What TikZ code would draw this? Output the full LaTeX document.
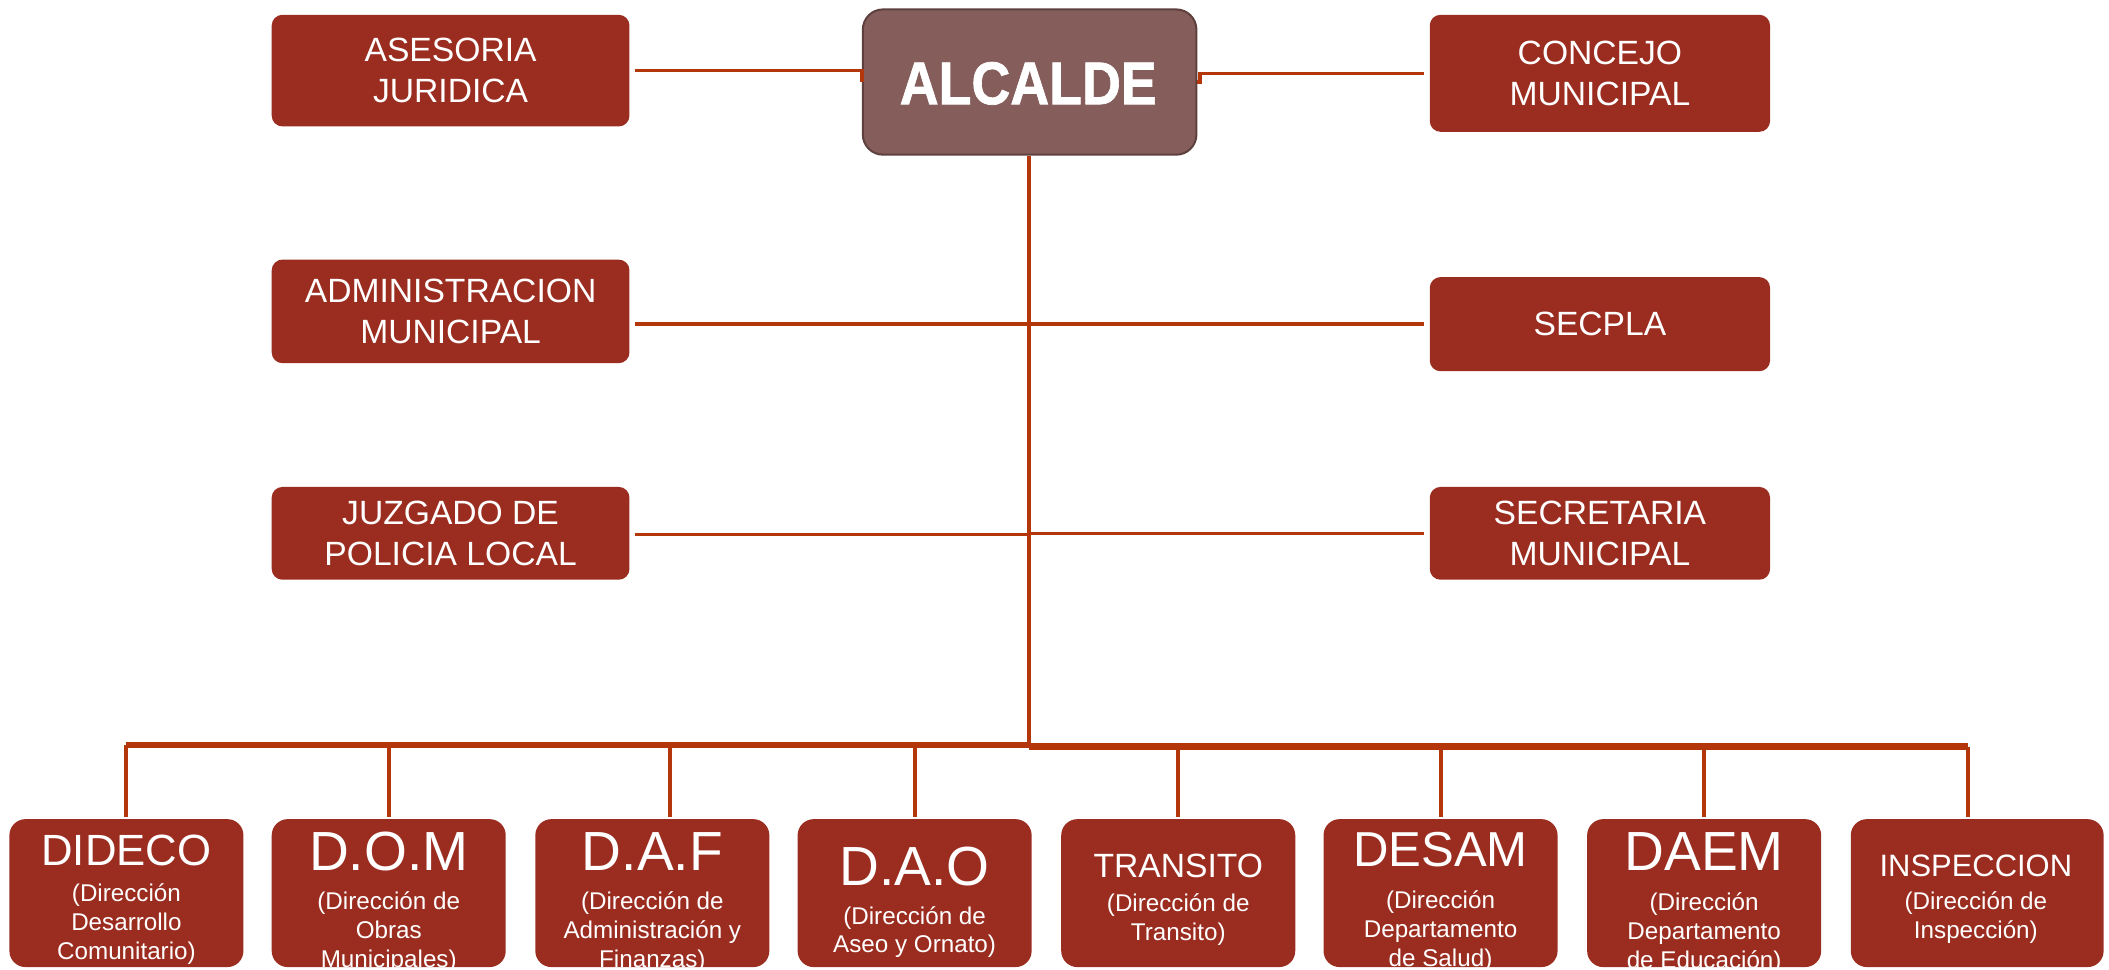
\documentclass[tikz,border=0pt]{standalone}
\usepackage{fontspec}
\setmainfont{Liberation Sans}
\newfontfamily\alcfont{Liberation Sans}[BoldFeatures={FakeBold=1.2}]
\usetikzlibrary{calc}
\definecolor{boxred}{RGB}{155,45,32}
\definecolor{linered}{RGB}{180,55,12}
\definecolor{alcfill}{RGB}{133,94,92}
\definecolor{alcdraw}{RGB}{94,64,62}
\tikzset{
 topbox/.style={rectangle, rounded corners=8pt, fill=boxred, text=white, font=\fontsize{25}{30.5}\selectfont, align=center, inner sep=0pt, outer sep=0pt},
 botbox/.style={rectangle, rounded corners=12pt, fill=boxred, minimum height=110pt, inner sep=0pt, outer sep=0pt},
 ttl/.style={text=white, inner sep=0pt},
 subt/.style={text=white, font=\fontsize{18}{21.5}\selectfont, align=center, inner sep=0pt},
 conn/.style={draw=linered, line width=2.5pt},
 drop/.style={draw=linered, line width=3pt},
 busline/.style={draw=linered, line width=4.5pt},
}
\begin{document}
\begin{tikzpicture}[x=1pt,y=-1pt]
\useasboundingbox (0,0) rectangle (1568,721);
\clip (0,0) rectangle (1568,721);

% top level
\node[topbox, minimum width=266pt, minimum height=83pt] (asesoria) at (335,52.5) {ASESORIA\\JURIDICA};
\node[rectangle, rounded corners=15pt, fill=alcfill, draw=alcdraw, line width=1.5pt, minimum width=248pt, minimum height=108pt, inner sep=0pt] (alcalde) at (765.5,61) {};
\node[text=white, font=\alcfont\bfseries\fontsize{40}{40}\selectfont, inner sep=0pt] (alcaldet) at (764.5,62) {\scalebox{1}[1.12]{ALCALDE}};
\node[topbox, minimum width=253pt, minimum height=87pt] (concejo) at (1189.5,54.5) {CONCEJO\\MUNICIPAL};
\node[topbox, minimum width=266pt, minimum height=77pt] (admin) at (335,231.5) {ADMINISTRACION\\MUNICIPAL};
\node[topbox, minimum width=253pt, minimum height=70pt] (secpla) at (1189.5,241) {SECPLA};
\node[topbox, minimum width=266pt, minimum height=69pt] (juzgado) at (335,396.5) {JUZGADO DE\\POLICIA LOCAL};
\node[topbox, minimum width=253pt, minimum height=69pt] (secretaria) at (1189.5,396.5) {SECRETARIA\\MUNICIPAL};

% bottom boxes
\node[botbox, minimum width=174pt] (dideco) at (94,664) {};
\node[botbox, minimum width=174pt] (dom) at (289,664) {};
\node[botbox, minimum width=174pt] (daf) at (485,664) {};
\node[botbox, minimum width=174pt] (dao) at (680,664) {};
\node[botbox, minimum width=174pt] (transito) at (876,664) {};
\node[botbox, minimum width=174pt] (desam) at (1071,664) {};
\node[botbox, minimum width=174pt] (daem) at (1267,664) {};
\node[botbox, minimum width=188pt] (inspeccion) at (1470,664) {};

\node[ttl, font=\fontsize{32.5}{32.5}\selectfont] (didecot) at (94,632) {DIDECO};
\node[subt] (didecos) at (94,687) {(Dirección\\Desarrollo\\Comunitario)};
\node[ttl, font=\fontsize{41}{41}\selectfont] (domt) at (289,633) {D.O.M};
\node[subt] (doms) at (289,693) {(Dirección de\\Obras\\Municipales)};
\node[ttl, font=\fontsize{41}{41}\selectfont] (daft) at (485,633) {D.A.F};
\node[subt] (dafs) at (485,693) {(Dirección de\\Administración y\\Finanzas)};
\node[ttl, font=\fontsize{41}{41}\selectfont] (daot) at (680,644) {D.A.O};
\node[subt] (daos) at (680,693) {(Dirección de\\Aseo y Ornato)};
\node[ttl, font=\fontsize{25}{25}\selectfont] (transitot) at (876,643.5) {TRANSITO};
\node[subt] (transitos) at (876,684) {(Dirección de\\Transito)};
\node[ttl, font=\fontsize{36.5}{36.5}\selectfont] (desamt) at (1071,632) {DESAM};
\node[subt] (desams) at (1071,692) {(Dirección\\Departamento\\de Salud)};
\node[ttl, font=\fontsize{41}{41}\selectfont] (daemt) at (1267,633) {DAEM};
\node[subt] (daems) at (1267,694) {(Dirección\\Departamento\\de Educación)};
\node[ttl, font=\fontsize{23}{23}\selectfont] (inspecciont) at (1469,644) {INSPECCION};
\node[subt] (inspeccions) at (1469,682.5) {(Dirección de\\Inspección)};

% connectors
\coordinate (bus) at (765,554);
\draw[conn] ($(asesoria.east)+(4,0)$) -| (alcalde.west);
\draw[conn] (alcalde.east) -- ++(2,0) |- ($(concejo.west)+(-4,0)$);
\draw[drop] (alcalde.south -| bus) -- (bus);
\draw[conn] ($(admin.east |- secpla.west)+(4,0)$) -- ($(secpla.west)+(-4,0)$);
\draw[conn] ($(juzgado.east)+(4,1)$) -- ($(juzgado.east -| bus)+(0,1)$);
\draw[conn] (secretaria.west -| bus) -- ($(secretaria.west)+(-4,0)$);
\draw[busline] (bus -| dideco.north) -- (bus);
\draw[busline] ($(bus)+(0,1)$) -- ($(bus -| inspeccion.north)+(-7,1)$);

\draw[drop] (bus -| dideco.north) -- ($(dideco.north)+(0,-1.5)$);
\draw[drop] (bus -| dom.north) -- ($(dom.north)+(0,-1.5)$);
\draw[drop] ($(bus -| daf.north)+(13,0)$) -- ($(daf.north)+(13,-1.5)$);
\draw[drop] (bus -| dao.north) -- ($(dao.north)+(0,-1.5)$);
\draw[drop] (bus -| transito.north) -- ($(transito.north)+(0,-1.5)$);
\draw[drop] (bus -| desam.north) -- ($(desam.north)+(0,-1.5)$);
\draw[drop] (bus -| daem.north) -- ($(daem.north)+(0,-1.5)$);
\draw[drop] ($(bus -| inspeccion.north)+(-7,1)$) -- ($(inspeccion.north)+(-7,-1.5)$);
\end{tikzpicture}
\end{document}
